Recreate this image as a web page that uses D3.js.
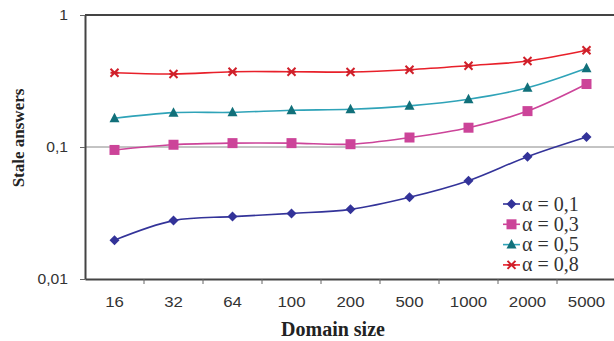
<!DOCTYPE html>
<html><head><meta charset="utf-8">
<script src="https://cdn.jsdelivr.net/npm/d3@7"></script>
<style>body{margin:0;background:#fff;}svg{display:block;}</style>
</head><body>
<svg id="c" width="614" height="341"></svg>
<script>
const categories = ["16","32","64","100","200","500","1000","2000","5000"];
const a01 = [0.0197,0.0277,0.0297,0.0314,0.0337,0.0416,0.0556,0.0845,0.119];
const a03 = [0.095,0.104,0.107,0.107,0.105,0.118,0.140,0.187,0.300];
const a05 = [0.165,0.182,0.183,0.190,0.193,0.205,0.230,0.281,0.395];
const a08 = [0.365,0.357,0.372,0.372,0.370,0.385,0.413,0.448,0.540];
const yTicks = [0.01,0.1,1];
const yTickLabels = ["0,01","0,1","1"];
const seriesNames = ["α = 0,1","α = 0,3","α = 0,5","α = 0,8"];

const series = [
  {name:seriesNames[0], values:a01, line:"#333399", mark:"#333399", shape:"diamond"},
  {name:seriesNames[1], values:a03, line:"#CC4499", mark:"#CC4499", shape:"square"},
  {name:seriesNames[2], values:a05, line:"#2fa3b8", mark:"#11707a", shape:"triangle"},
  {name:seriesNames[3], values:a08, line:"#e8202a", mark:"#d0202a", shape:"cross"}
];

const svg = d3.select("#c");
const L=85, R=616, T=15, B=279;
const x = d3.scaleBand().domain(categories).range([L,R]);
const y = d3.scaleLog().domain([0.01,1]).range([B,T]);
const SANS = "Liberation Sans, Arial, sans-serif";
const SERIF = "Liberation Serif, Times New Roman, serif";

// gridline at 0.1
svg.append("line").attr("x1",L).attr("x2",R).attr("y1",y(0.1)).attr("y2",y(0.1))
  .attr("stroke","#888").attr("stroke-width",1);
// top border
svg.append("line").attr("x1",L).attr("x2",R).attr("y1",T).attr("y2",T).attr("stroke","#444").attr("stroke-width",2);

// y axis
const yAxis = d3.axisLeft(y).tickValues(yTicks).tickFormat(d=>yTickLabels[yTicks.indexOf(d)]).tickSize(5).tickSizeOuter(0);
const gy = svg.append("g").attr("transform",`translate(${L},0)`).call(yAxis);
gy.select(".domain").attr("stroke","#444").attr("stroke-width",2);
gy.selectAll(".tick line").attr("stroke","#666");
gy.selectAll(".tick text").attr("font-family",SANS).attr("font-size",14).attr("fill","#333")
  .attr("x",0).attr("dy","0.35em").attr("transform","translate(-17,0) scale(1.12,1)");

// x axis
const xAxis = d3.axisBottom(x).tickSize(0).tickSizeOuter(0);
const gx = svg.append("g").attr("transform",`translate(0,${B})`).call(xAxis);
gx.select(".domain").attr("stroke","#444").attr("stroke-width",2);
gx.selectAll(".tick text").attr("font-family",SANS).attr("font-size",14).attr("fill","#333")
  .attr("dy","0").attr("y",0).attr("transform","translate(0,28) scale(1.2,1)");
// tick marks at band boundaries
const bounds = categories.map(c=>x(c)).concat([R]);
svg.append("g").selectAll("line").data(bounds.slice(1,-1)).join("line")
  .attr("x1",d=>d).attr("x2",d=>d).attr("y1",B).attr("y2",B+5).attr("stroke","#666");

// lines
const line = d3.line().x((d,i)=>x(categories[i])+x.bandwidth()/2).y(d=>y(d)).curve(d3.curveCatmullRom.alpha(0.5));
function marker(g, shape, color, cx, cy){
  if(shape==="diamond") g.append("path").attr("d",`M${cx},${cy-5}L${cx+5},${cy}L${cx},${cy+5}L${cx-5},${cy}Z`).attr("fill",color);
  else if(shape==="square") g.append("rect").attr("x",cx-5).attr("y",cy-5).attr("width",10).attr("height",10).attr("fill",color);
  else if(shape==="triangle") g.append("path").attr("d",`M${cx},${cy-5.5}L${cx+5},${cy+4}L${cx-5},${cy+4}Z`).attr("fill",color);
  else if(shape==="cross") g.append("path").attr("d",`M${cx-4},${cy-4}L${cx+4},${cy+4}M${cx-4},${cy+4}L${cx+4},${cy-4}M${cx-4},${cy}L${cx+4},${cy}`).attr("stroke",color).attr("stroke-width",2).attr("fill","none");
}
series.forEach(s=>{
  svg.append("path").datum(s.values).attr("d",line).attr("fill","none").attr("stroke",s.line).attr("stroke-width",1.6);
  const g = svg.append("g");
  s.values.forEach((v,i)=>marker(g,s.shape,s.mark,x(categories[i])+x.bandwidth()/2,y(v)));
});

// legend
const lg = svg.append("g");
series.forEach((s,i)=>{
  const ly = 204 + i*20.3;
  lg.append("line").attr("x1",503).attr("x2",520).attr("y1",ly).attr("y2",ly).attr("stroke",s.line).attr("stroke-width",1.6);
  marker(lg,s.shape,s.mark,511.5,ly);
  lg.append("text").attr("x",522).attr("y",ly+6.5).text(s.name)
    .attr("font-family",SERIF).attr("font-size",20).attr("fill","#333");
});

// axis titles
svg.append("text").attr("transform","translate(24,138) rotate(-90)").attr("text-anchor","middle")
  .attr("font-family",SERIF).attr("font-weight","bold").attr("font-size",17).attr("fill","#222").text("Stale answers");
svg.append("text").attr("x",333).attr("y",336).attr("text-anchor","middle")
  .attr("font-family",SERIF).attr("font-weight","bold").attr("font-size",20).attr("fill","#222").text("Domain size");
</script>
</body></html>
